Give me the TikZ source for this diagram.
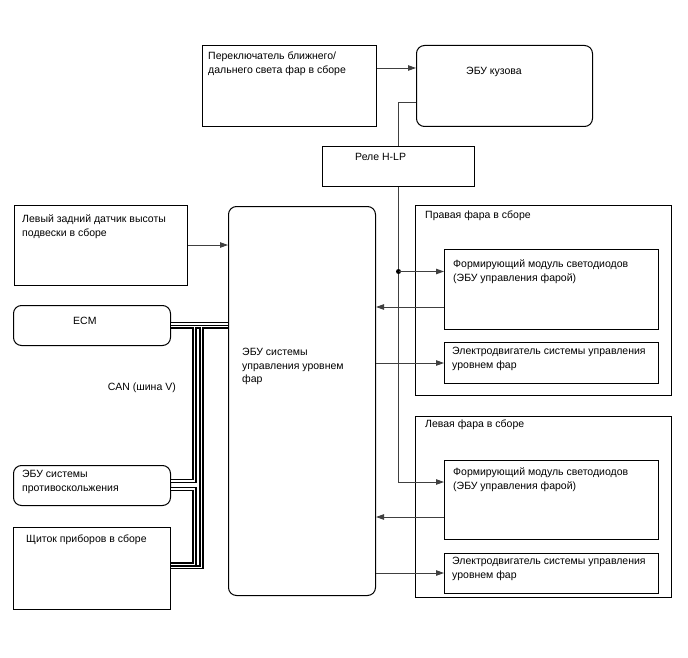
\documentclass[tikz,border=0pt]{standalone}
\usepackage{fontspec}
\setmainfont{Liberation Sans}
\usetikzlibrary{arrows.meta}
\begin{document}
\begin{tikzpicture}[x=1pt,y=-1pt,
  box/.style={draw=black, line width=1pt, anchor=north west, inner sep=0pt},
  rbox/.style={box, rounded corners=8pt},
  txt/.style={anchor=north west, inner sep=0pt, font=\fontsize{10.5}{13.5}\selectfont, align=left},
  wire/.style={draw=black!75, line width=0.9pt},
  arr/.style={wire, -{Triangle[length=8pt,width=5.5pt]}},
  can/.style={draw=black, line width=1.5pt, double=white, double distance=1.2pt},
  dotm/.style={circle, fill=black, inner sep=0pt, minimum size=5pt}
]
\useasboundingbox (0,0) rectangle (688,658);

% boxes
\node[box, minimum width=174pt, minimum height=81pt] (sw) at (202,45) {};
\node[rbox, minimum width=176pt, minimum height=81pt] (ebk) at (416,45) {};
\node[box, minimum width=152pt, minimum height=40pt] (rel) at (322,146) {};
\node[box, minimum width=173pt, minimum height=80pt] (sen) at (14,205) {};
\node[rbox, minimum width=157pt, minimum height=40pt] (ecm) at (13,305) {};
\node[rbox, minimum width=147pt, minimum height=389pt] (main) at (228,206) {};
\node[rbox, minimum width=157pt, minimum height=40pt] (abs) at (13,465) {};
\node[box, minimum width=157pt, minimum height=82pt] (clu) at (13,527) {};
\node[box, minimum width=256pt, minimum height=190pt] (rh) at (415,205) {};
\node[box, minimum width=214pt, minimum height=80pt] (rled) at (444,249) {};
\node[box, minimum width=214pt, minimum height=41pt] (rmot) at (444,342) {};
\node[box, minimum width=256pt, minimum height=181pt] (lh) at (415,416) {};
\node[box, minimum width=214pt, minimum height=79pt] (lled) at (444,460) {};
\node[box, minimum width=214pt, minimum height=40pt] (lmot) at (444,553) {};

% texts
\node[txt] (swt) at (208,52) {Переключатель ближнего/\\дальнего света фар в сборе};
\node[txt] (ebkt) at (466,67) {ЭБУ кузова};
\node[txt] (relt) at (355,153) {Реле H-LP};
\node[txt] (sent) at (22,215) {Левый задний датчик высоты\\подвески в сборе};
\node[txt] (ecmt) at (73,317) {ECM};
\node[txt] (maint) at (242,348) {ЭБУ системы\\управления уровнем\\фар};
\node[txt, anchor=north east] (cant) at (176,383) {CAN (шина V)};
\node[txt] (abst) at (22,470) {ЭБУ системы\\противоскольжения};
\node[txt] (clut) at (26,535) {Щиток приборов в сборе};
\node[txt] (rht) at (425,211) {Правая фара в сборе};
\node[txt] (rledt) at (453,260) {Формирующий модуль светодиодов\\(ЭБУ управления фарой)};
\node[txt] (rmott) at (452,347) {Электродвигатель системы управления\\уровнем фар};
\node[txt] (lht) at (425,420) {Левая фара в сборе};
\node[txt] (lledt) at (453,468) {Формирующий модуль светодиодов\\(ЭБУ управления фарой)};
\node[txt] (lmott) at (452,557) {Электродвигатель системы управления\\уровнем фар};

% connectors
\draw[arr] (sw.east |- 0,68) -- (ebk.west |- 0,68);
\draw[wire] (ebk.west |- 0,102) -| (rel.north -| 398.5,0);
\draw[arr] (rel.south -| 398.5,0) |- (lled.west |- 0,482);
\node[dotm] (jd) at (398.5,271.5) {};
\draw[arr] (jd.center) -- (rled.west |- 0,271.5);
\draw[arr] (sen.east |- 0,245) -- (main.west |- 0,245);
\draw[arr] (rled.west |- 0,307) -- (main.east |- 0,307);
\draw[arr] (main.east |- 0,363) -- (rmot.west |- 0,363);
\draw[arr] (lled.west |- 0,517) -- (main.east |- 0,517);
\draw[arr] (main.east |- 0,573) -- (lmot.west |- 0,573);

% CAN bus
\coordinate (cv1) at (194.5,326.7);
\coordinate (cv2) at (201.5,326.7);
\draw[can]
  (ecm.east |- 0,324) -- (main.west |- 0,324)
  (ecm.east |- 0,326.7) -- (main.west |- 0,326.7)
  (cv1) |- (abs.east |- 0,481)
  (abs.east |- 0,489) -| (194.5,564.5) -- (clu.east |- 0,564.5)
  (cv2) |- (clu.east |- 0,567.2);
\end{tikzpicture}
\end{document}
